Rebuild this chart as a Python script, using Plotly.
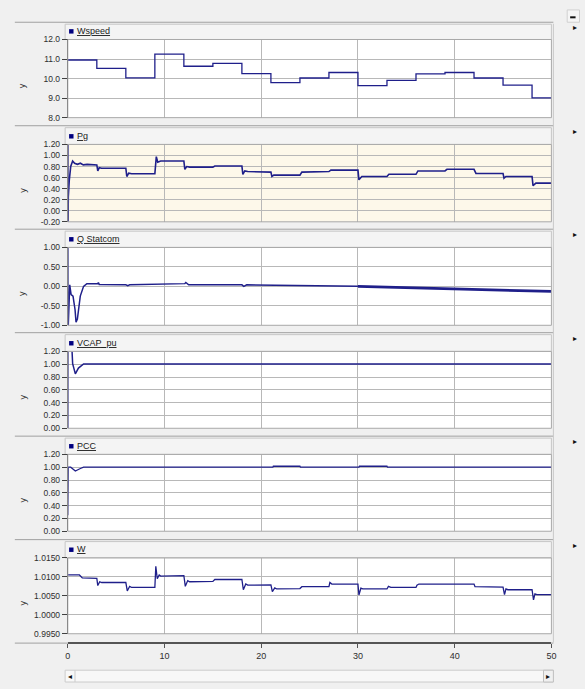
import plotly.graph_objects as go

# ---------------- data ----------------
wspeed_t = [0, 3, 6, 9, 12, 15, 18, 21, 24, 27, 30, 33, 36, 39, 42, 45, 48, 50]
wspeed_v = [10.95, 10.52, 10.04, 11.25, 10.63, 10.78, 10.25, 9.79, 10.03, 10.31,
            9.64, 9.91, 10.24, 10.31, 10.03, 9.66, 9.01, 9.01]

pg_t = [0, 0.01, 0.02, 0.05, 0.15, 0.3, 0.5, 0.7, 1.0, 1.3, 1.6, 2.0, 3.0, 3.1, 3.25,
        3.5, 6.0, 6.1, 6.3, 6.6, 9.0, 9.15, 9.3, 9.6, 12.0, 12.1, 12.3, 12.6, 15.0,
        15.2, 18.0, 18.1, 18.3, 18.6, 21.0, 21.1, 21.3, 21.6, 24.0, 24.2, 27.0, 27.2,
        30.0, 30.1, 30.4, 33.0, 33.2, 36.0, 36.2, 39.0, 39.2, 42.0, 42.2, 45.0, 45.1,
        45.3, 48.0, 48.1, 48.4, 50.0]
pg_v = [0.0, 1.5, -0.5, 0.25, 0.55, 0.8, 0.9, 0.86, 0.84, 0.86, 0.83, 0.84, 0.83, 0.72,
        0.78, 0.77, 0.77, 0.62, 0.68, 0.67, 0.67, 0.98, 0.88, 0.90, 0.90, 0.75, 0.80,
        0.79, 0.79, 0.81, 0.81, 0.66, 0.72, 0.71, 0.70, 0.62, 0.645, 0.645, 0.645, 0.70,
        0.71, 0.735, 0.735, 0.56, 0.62, 0.62, 0.66, 0.66, 0.72, 0.72, 0.75, 0.75, 0.675,
        0.675, 0.59, 0.62, 0.62, 0.455, 0.50, 0.50]

q_t = [0, 0.01, 0.02, 0.2, 0.34, 0.54, 0.75, 0.85, 0.99, 1.29, 1.63, 1.97, 2.65, 3.1,
       3.16, 3.25, 6.0, 6.2, 6.4, 9.6, 12.1, 12.2, 12.5, 18.0, 18.2, 18.5, 21.0, 24.0,
       27.0, 30.0]
q_v = [0.0, 1.2, -1.2, 0.04, -0.21, -0.25, -0.6, -0.92, -0.84, -0.25, 0.0, 0.07, 0.08,
       0.07, 0.1, 0.05, 0.04, 0.02, 0.04, 0.05, 0.07, 0.1, 0.04, 0.04, 0.0, 0.04, 0.03,
       0.02, 0.01, 0.0]
q_late_t = [30.0, 33.0, 36.0, 39.0, 42.0, 45.0, 48.0, 50.0]
q_late_v = [0.0, -0.02, -0.04, -0.05, -0.07, -0.09, -0.11, -0.13]

vcap_t = [0, 0.01, 0.44, 0.5, 0.78, 1.1, 1.63, 50]
vcap_v = [0.0, 1.35, 1.2, 1.01, 0.85, 0.94, 1.005, 1.005]

pcc_t = [0, 0.01, 0.05, 0.3, 0.78, 1.3, 1.63, 21.2, 21.25, 24.0, 24.05, 30.1, 30.15,
         33.0, 33.05, 50]
pcc_v = [0.25, 0.9, 1.0, 1.0, 0.94, 0.98, 1.0, 1.0, 1.015, 1.015, 1.0, 1.0, 1.015,
         1.015, 1.0, 1.0]

w_t = [0, 1.2, 1.5, 3.0, 3.1, 3.3, 3.5, 6.0, 6.15, 6.4, 6.6, 9.0, 9.1, 9.25, 9.45, 9.6,
       12.0, 12.15, 12.4, 12.6, 15.0, 15.2, 18.0, 18.15, 18.4, 18.6, 21.0, 21.15, 21.4,
       21.6, 24.0, 24.2, 27.0, 27.1, 27.3, 30.0, 30.1, 30.3, 30.5, 33.0, 33.15, 33.4,
       36.0, 36.1, 36.3, 39.0, 39.2, 42.0, 42.1, 45.0, 45.15, 45.3, 45.5, 48.0, 48.15,
       48.3, 48.5, 50.0]
w_v = [1.0105, 1.0105, 1.0097, 1.0096, 1.0077, 1.0087, 1.0085, 1.0085, 1.0063, 1.0075,
       1.0072, 1.0072, 1.0128, 1.0095, 1.0105, 1.0102, 1.0103, 1.0075, 1.0090, 1.0087,
       1.0088, 1.0093, 1.0093, 1.0066, 1.0081, 1.0078, 1.0079, 1.0061, 1.0071, 1.0068,
       1.0069, 1.0074, 1.0074, 1.0085, 1.0081, 1.0081, 1.0052, 1.0070, 1.0068, 1.0068,
       1.0075, 1.0072, 1.0072, 1.0078, 1.0081, 1.0081, 1.0082, 1.0081, 1.0074, 1.0073,
       1.0053, 1.0068, 1.0066, 1.0066, 1.0039, 1.0055, 1.0053, 1.0053]

panel_names = ["Wspeed", "Pg", "Q Statcom", "VCAP_pu", "PCC", "W"]
y_ranges = [[8.0, 12.0], [-0.2, 1.2], [-1.0, 1.0], [0.0, 1.2], [0.0, 1.2], [0.995, 1.015]]
y_ticks = [
    [8.0, 9.0, 10.0, 11.0, 12.0],
    [-0.2, 0.0, 0.2, 0.4, 0.6, 0.8, 1.0, 1.2],
    [-1.0, -0.5, 0.0, 0.5, 1.0],
    [0.0, 0.2, 0.4, 0.6, 0.8, 1.0, 1.2],
    [0.0, 0.2, 0.4, 0.6, 0.8, 1.0, 1.2],
    [0.995, 1.0, 1.005, 1.01, 1.015],
]
y_fmt = ["{:.1f}", "{:.2f}", "{:.2f}", "{:.2f}", "{:.2f}", "{:.4f}"]
x_ticks = [0, 10, 20, 30, 40, 50]

# ---------------- layout geometry (pixels) ----------------
W, H = 585, 689
plot_left, plot_right = 65.7, 556.0
plot_tops = [35.0, 141.5, 246.0, 351.5, 456.0, 561.0]
plot_bots = [114.3, 220.0, 325.0, 429.5, 534.0, 638.0]
seps = [17.5, 122.5, 227.5, 332.5, 437.5, 542.5, 647.5]

LINE = "#1f1f8a"
GRID = "#b8b8b8"
FRAME = "#a8a8a8"
TXT = "#2e2e2e"
FONT = "Liberation Sans"


def px(x):
    return x / W


def py(y):
    return 1 - y / H


def note(x, y, text, size=9, family=FONT, color=TXT, xanchor="center", **kw):
    return dict(xref="paper", yref="paper", x=px(x), y=py(y), text=text,
                showarrow=False, xanchor=xanchor, yanchor="middle",
                font=dict(family=family, size=size, color=color), **kw)


fig = go.Figure()

series = [
    (wspeed_t, wspeed_v, 1, "hv", 1.3),
    (pg_t, pg_v, 2, "linear", 1.6),
    (q_t, q_v, 3, "linear", 1.5),
    (q_late_t, q_late_v, 3, "linear", 2.8),
    (vcap_t, vcap_v, 4, "linear", 1.5),
    (pcc_t, pcc_v, 5, "linear", 1.3),
    (w_t, w_v, 6, "linear", 1.3),
]
for t, v, k, shape, lw in series:
    sfx = "" if k == 1 else str(k)
    fig.add_trace(go.Scatter(
        x=t, y=v, mode="lines", line=dict(color=LINE, width=lw, shape=shape),
        xaxis="x" + sfx, yaxis="y" + sfx, hoverinfo="skip", showlegend=False,
    ))

layout_axes = {}
shapes = []
annotations = []

for i in range(6):
    k = i + 1
    sfx = "" if k == 1 else str(k)
    xa = dict(
        domain=[px(plot_left), px(plot_right)], range=[0, 50], anchor="y" + sfx,
        tickvals=x_ticks, showgrid=True, gridcolor=GRID, gridwidth=1, zeroline=False,
        showline=False, showticklabels=False, ticks="", fixedrange=True,
    )
    if k == 6:
        # shared time axis drawn below the last panel
        xa.update(
            anchor="free", position=py(seps[6]), showline=True, linecolor="#555555",
            linewidth=2, ticks="outside", ticklen=4, tickcolor="#555555",
            showticklabels=True, tickfont=dict(family=FONT, size=9, color=TXT),
        )
    ya = dict(
        domain=[py(plot_bots[i]), py(plot_tops[i])], range=y_ranges[i],
        anchor="x" + sfx, tickvals=y_ticks[i],
        ticktext=[y_fmt[i].format(v) for v in y_ticks[i]],
        showgrid=True, gridcolor=GRID, gridwidth=1, zeroline=False,
        showline=True, linecolor="#404040", linewidth=1,
        ticks="outside", ticklen=5, tickcolor="#404040",
        tickfont=dict(family=FONT, size=8.5, color=TXT), fixedrange=True,
    )
    layout_axes["xaxis" + sfx] = xa
    layout_axes["yaxis" + sfx] = ya

    # separator line across the panel strip
    shapes.append(dict(type="line", xref="paper", yref="paper", x0=px(12), x1=px(558),
                       y0=py(seps[i]), y1=py(seps[i]),
                       line=dict(color="#a0a0a0", width=1), layer="below"))
    # header strip above the plot area
    shapes.append(dict(type="rect", xref="paper", yref="paper",
                       x0=px(63), x1=px(556), y0=py(plot_tops[i]), y1=py(seps[i] + 2),
                       fillcolor="#f4f4f4", line=dict(color="#c6c6c6", width=1),
                       layer="below"))
    # plot frame
    shapes.append(dict(type="rect", xref="paper", yref="paper",
                       x0=px(plot_left), x1=px(plot_right),
                       y0=py(plot_bots[i]), y1=py(plot_tops[i]),
                       line=dict(color=FRAME, width=1), fillcolor="rgba(0,0,0,0)",
                       layer="above"))
    hy = plot_tops[i] - 8.5
    # series marker square and underlined name
    shapes.append(dict(type="rect", xref="paper", yref="paper",
                       x0=px(67), x1=px(71.5), y0=py(hy + 2.5), y1=py(hy - 2),
                       fillcolor="#000080", line=dict(width=0), layer="above"))
    annotations.append(note(73, hy, "<u>" + panel_names[i] + "</u>", color="#1a1a1a",
                            xanchor="left"))
    # y axis title
    annotations.append(note(20, (plot_tops[i] + plot_bots[i]) / 2 + 7, "y",
                            textangle=-90))
    # panel menu arrow in the right column
    annotations.append(note(580, seps[i] + 5.5, "▸", size=8, family="DejaVu Sans",
                            color="#111111"))

# cream background of the Pg panel
shapes.append(dict(type="rect", xref="paper", yref="paper",
                   x0=px(plot_left), x1=px(plot_right),
                   y0=py(plot_bots[1]), y1=py(plot_tops[1]),
                   fillcolor="#fdf8ea", line=dict(width=0), layer="below"))

# bottom separator and right column border
shapes.append(dict(type="line", xref="paper", yref="paper", x0=px(12), x1=px(558),
                   y0=py(seps[6]), y1=py(seps[6]), line=dict(color="#a0a0a0", width=1),
                   layer="below"))
shapes.append(dict(type="line", xref="paper", yref="paper", x0=px(558), x1=px(558),
                   y0=py(19), y1=py(647), line=dict(color="#c8c8c8", width=1),
                   layer="below"))
# top-right minimise button
shapes.append(dict(type="rect", xref="paper", yref="paper", x0=px(572), x1=px(584.5),
                   y0=py(17.5), y1=py(5), line=dict(color="#d0d0d0", width=1),
                   fillcolor="#f5f5f5", layer="below"))
shapes.append(dict(type="line", xref="paper", yref="paper", x0=px(575), x1=px(580.5),
                   y0=py(12.5), y1=py(12.5), line=dict(color="#111111", width=2),
                   layer="above"))

# horizontal scrollbar
shapes.append(dict(type="rect", xref="paper", yref="paper", x0=px(63), x1=px(558),
                   y0=py(687), y1=py(675), fillcolor="#f8f8f8",
                   line=dict(color="#cccccc", width=1), layer="below"))
shapes.append(dict(type="rect", xref="paper", yref="paper", x0=px(548), x1=px(558),
                   y0=py(687), y1=py(675), fillcolor="#f0f0f0",
                   line=dict(color="#c0c0c0", width=1), layer="below"))
shapes.append(dict(type="line", xref="paper", yref="paper", x0=px(73), x1=px(73),
                   y0=py(687), y1=py(675), line=dict(color="#cccccc", width=1),
                   layer="below"))
annotations.append(note(68, 681, "◂", size=8, family="DejaVu Sans", color="#111111"))
annotations.append(note(553, 681, "▸", size=8, family="DejaVu Sans", color="#111111"))

fig.update_layout(
    width=W, height=H, margin=dict(l=0, r=0, t=0, b=0),
    paper_bgcolor="#f0f0f0", plot_bgcolor="#ffffff",
    showlegend=False, shapes=shapes, annotations=annotations,
    **layout_axes,
)

fig.write_html("out.html", config={"displayModeBar": False})
